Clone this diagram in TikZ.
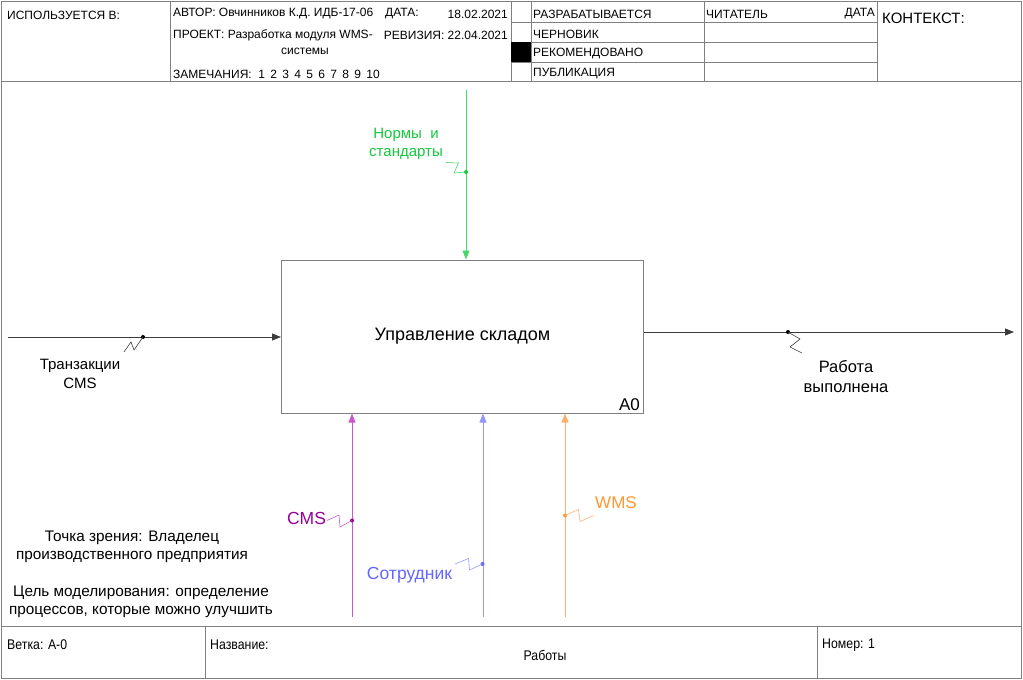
\documentclass[tikz,border=0pt]{standalone}
\usepackage{fontspec}
\setmainfont{Liberation Sans}
\newfontfamily\narrowfont[FakeStretch=0.88]{Liberation Sans}
\usetikzlibrary{arrows.meta,positioning,calc}
\definecolor{framegray}{RGB}{128,128,128}
\definecolor{arrowgray}{RGB}{60,60,60}
\definecolor{ctrltext}{RGB}{20,200,60}
\definecolor{ctrlline}{RGB}{70,215,100}
\definecolor{cmstext}{RGB}{150,0,150}
\definecolor{cmsline}{RGB}{200,90,200}
\definecolor{stafftext}{RGB}{100,100,255}
\definecolor{staffline}{RGB}{150,150,255}
\definecolor{wmstext}{RGB}{255,150,50}
\definecolor{wmsline}{RGB}{255,175,110}
\tikzset{
  idef/frame/.style={draw=framegray, line width=0.9pt},
  idef/head/.style={font=\fontsize{12}{14}\selectfont, inner sep=0pt, anchor=west},
  idef/foot/.style={font=\narrowfont\fontsize{14}{16}\selectfont, inner sep=0pt, anchor=west},
  idef/box/.style={draw=framegray, line width=1pt, minimum width=362pt, minimum height=153pt, inner sep=0pt, font=\fontsize{18}{21}\selectfont},
  idef/arrow/.style={line width=0.8pt, -{Triangle[length=9pt,width=7pt]}},
  idef/dot/.style={circle, fill, inner sep=0pt, minimum size=4pt},
  idef/squig/.style={line width=0.6pt},
  idef/label/.style={font=\fontsize{16}{19.5}\selectfont, align=center, inner sep=0pt},
  idef/note/.style={font=\fontsize{15.3}{18}\selectfont, align=center, inner sep=0pt}
}

\begin{document}
\begin{tikzpicture}[x=1pt,y=-1pt]
  \useasboundingbox (0,0) rectangle (1023,680);

  % frame, header and footer
  \draw[idef/frame] (1,1) rectangle (1021,678);
  \draw[idef/frame] (1,81) -- (1021,81);
  \draw[idef/frame] (1,626) -- (1021,626);
  \foreach \x in {170,511,531,704,877}
    \draw[idef/frame] (\x,1) -- (\x,81);
  \foreach \y in {22,42,62}
    \draw[idef/frame] (511,\y) -- (877,\y);
  \fill (511,42) rectangle (531,62);
  \foreach \x in {205,817}
    \draw[idef/frame] (\x,626) -- (\x,678);

  \node[idef/head] (usedat) at (7,15) {ИСПОЛЬЗУЕТСЯ В:};
  \node[idef/head] (author) at (173,14) {АВТОР: Овчинников К.Д. ИДБ-17-06};
  \node[idef/head] (datelbl) at (385,14) {ДАТА:};
  \node[idef/head, anchor=east] (dateval) at (508,14) {18.02.2021};
  \node[idef/head] (project) at (173,35) {ПРОЕКТ: Разработка модуля WMS-};
  \node[idef/head, anchor=center] (project2) at (305,51) {системы};
  \node[idef/head, anchor=east] (revision) at (508,35) {РЕВИЗИЯ: 22.04.2021};
  \node[idef/head] (notes) at (173,74) {ЗАМЕЧАНИЯ:\ \ 1\, 2\, 3\, 4\, 5\, 6\, 7\, 8\, 9\, 10};
  \node[idef/head] (working) at (533,14) {РАЗРАБАТЫВАЕТСЯ};
  \node[idef/head] (draft) at (533,34) {ЧЕРНОВИК};
  \node[idef/head] (recommended) at (533,54) {РЕКОМЕНДОВАНО};
  \node[idef/head] (publication) at (533,74) {ПУБЛИКАЦИЯ};
  \node[idef/head] (reader) at (706,14) {ЧИТАТЕЛЬ};
  \node[idef/head, anchor=east] (readerdate) at (875,14) {ДАТА};
  \node[idef/head, font=\fontsize{15}{17}\selectfont] (context) at (882,18) {КОНТЕКСТ:};

  \node[idef/foot] (node) at (7,645) {Ветка: А-0};
  \node[idef/foot] (title) at (210,645) {Название:};
  \node[idef/foot, anchor=center] (titleval) at (545,655) {Работы};
  \node[idef/foot] (number) at (822,645) {Номер: 1};

  % activity
  \node[idef/box] (box) at (462.5,336.5) {Управление складом};
  \node[font=\fontsize{17}{20}\selectfont, inner sep=0pt, anchor=south east] (boxnum) at ($(box.south east)+(-4,-3)$) {A0};

  % input
  \coordinate (insrc) at (8,337);
  \draw[idef/arrow, draw=arrowgray, fill=black] (insrc) -- (insrc -| box.west);
  \node[idef/dot] (indot) at (143,337) {};
  \draw[idef/squig, arrowgray] (indot.center) -- (134,350) -- (131,342) -- (124,352);
  \node[idef/label, font=\fontsize{15}{19.5}\selectfont] (inlbl) at (80,374) {Транзакции\\CMS};

  % output
  \coordinate (outdst) at (1014,332);
  \draw[idef/arrow, draw=arrowgray, fill=black] (box.east |- outdst) -- (outdst);
  \node[idef/dot] (outdot) at (788,332) {};
  \draw[idef/squig, arrowgray] (outdot.center) -- (800,339) -- (790,347) -- (802,353);
  \node[idef/label, font=\fontsize{16.5}{20}\selectfont] (outlbl) at (846,377) {Работа\\выполнена};

  % control
  \coordinate (ctrlsrc) at (466,90);
  \draw[idef/arrow, draw=ctrlline] (ctrlsrc) -- (ctrlsrc |- box.north);
  \node[idef/dot, fill=ctrltext] (ctrldot) at (466,172) {};
  \draw[idef/squig, ctrlline] (ctrldot.center) -- (454,173) -- (458.5,163) -- (446,162.5);
  \node[idef/label, font=\fontsize{15}{18.5}\selectfont, text=ctrltext] (ctrllbl) at (406,144) {Нормы\ \ и\\стандарты};

  % mechanisms
  \foreach \name/\x/\col in {cms/352/cmsline, staff/483/staffline, wms/565/wmsline}{
    \coordinate (\name src) at (\x,617);
    \draw[idef/arrow, draw=\col] (\name src) -- (\name src |- box.south);
  }
  \node[idef/dot, fill=cmstext] (cmsdot) at (352,520.5) {};
  \draw[idef/squig, cmsline] (cmsdot.center) -- (340,527) -- (339,515) -- (327,520.5);
  \node[idef/label, font=\fontsize{17.5}{20}\selectfont, text=cmstext] (cmslbl) at (306.5,518.5) {CMS};

  \node[idef/dot, fill=stafftext] (staffdot) at (482.5,564) {};
  \draw[idef/squig, staffline] (staffdot.center) -- (469.5,570) -- (468.5,558.5) -- (455,564);
  \node[idef/label, font=\fontsize{17.5}{20}\selectfont, text=stafftext] (stafflbl) at (409.5,575) {Сотрудник};

  \node[idef/dot, fill=wmstext] (wmsdot) at (565,515.5) {};
  \draw[idef/squig, wmsline] (wmsdot.center) -- (578.5,509.5) -- (580,521.5) -- (593.5,515.5);
  \node[idef/label, font=\fontsize{17}{20}\selectfont, text=wmstext] (wmslbl) at (616,503) {WMS};

  % viewpoint and purpose
  \node[idef/note] (viewpoint) at (132,547) {Точка зрения: Владелец\\производственного предприятия};
  \node[idef/note] (purpose) at (141,601.5) {Цель моделирования: определение\\процессов, которые можно улучшить};
\end{tikzpicture}
\end{document}
